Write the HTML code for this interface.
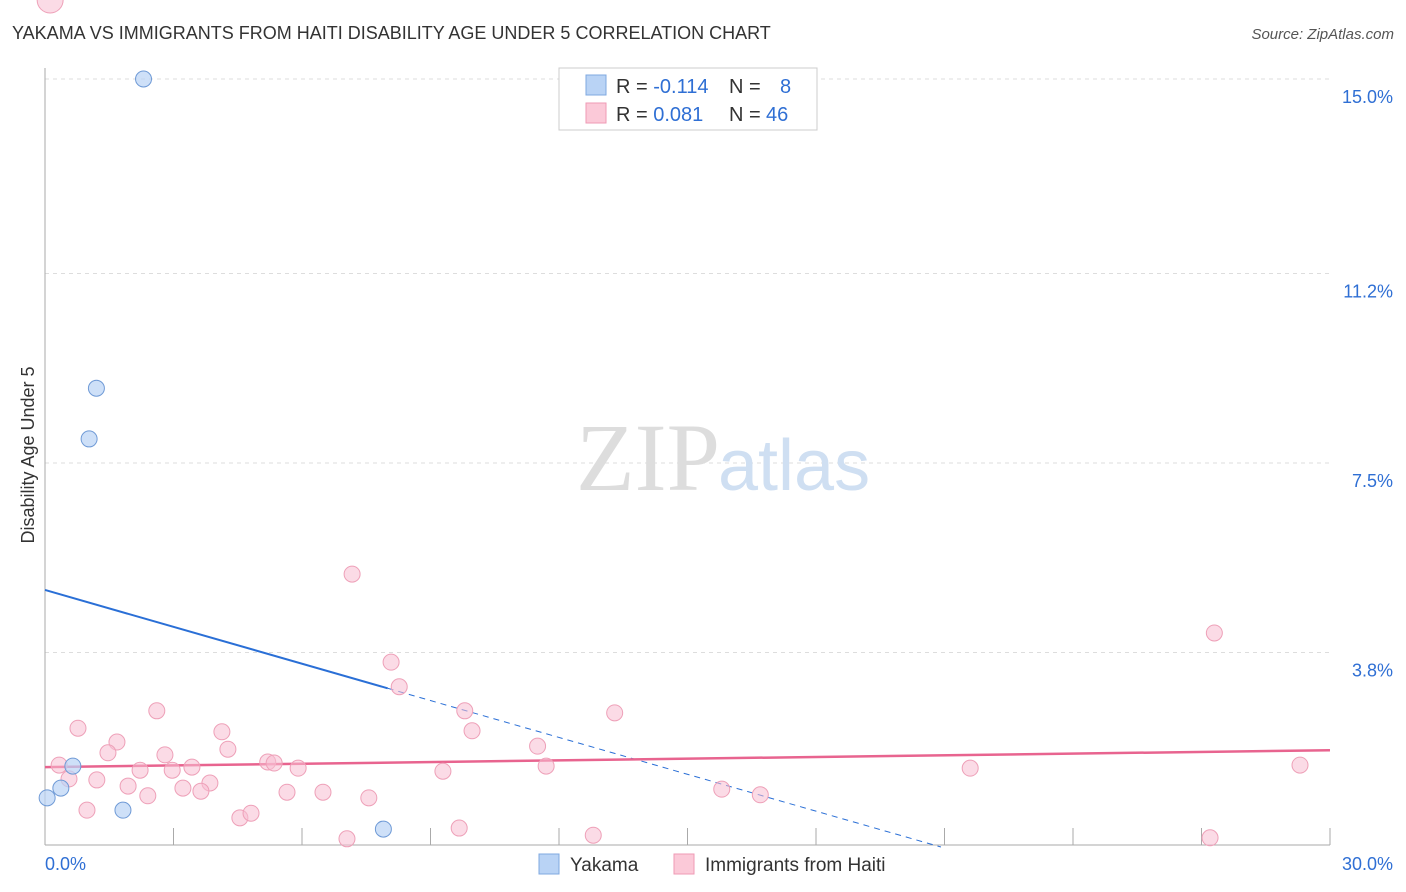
<!DOCTYPE html>
<html><head><meta charset="utf-8"><style>
body{margin:0;background:#fff;font-family:"Liberation Sans",sans-serif;}
#wrap{position:relative;width:1406px;height:892px;overflow:hidden;}
</style></head><body>
<div id="wrap">
<svg id="svg" width="1406" height="892" xmlns="http://www.w3.org/2000/svg">
<text x="12" y="39" font-size="18" fill="#333">YAKAMA VS IMMIGRANTS FROM HAITI DISABILITY AGE UNDER 5 CORRELATION CHART</text>
<text x="1394" y="39" font-size="15" fill="#555" font-style="italic" text-anchor="end">Source: ZipAtlas.com</text>
<text x="34" y="455" font-size="18" fill="#333" text-anchor="middle" transform="rotate(-90 34 455)">Disability Age Under 5</text>
<g id="grid"></g>
<text x="720" y="490" font-size="96" fill="#ddd" font-family="Liberation Serif" text-anchor="end">ZIP</text>
<text x="718" y="490" font-size="72" fill="#cfdff2" text-anchor="start">atlas</text>
<g id="lines"></g>
<g id="pts"></g>
<g>
<rect x="559" y="68" width="258" height="62" fill="#fff" stroke="#ccc"/>
<rect x="586" y="75" width="20" height="20" fill="#b9d3f5" stroke="#7fa8e0"/>
<rect x="586" y="103" width="20" height="20" fill="#fbc9d8" stroke="#ef9ab5"/>
<text x="616" y="93" font-size="20" fill="#333">R = <tspan fill="#2f6fd4">-0.114</tspan><tspan x="729">N = </tspan><tspan x="780" fill="#2f6fd4">8</tspan></text>
<text x="616" y="121" font-size="20" fill="#333">R = <tspan fill="#2f6fd4"> 0.081</tspan><tspan x="729">N = </tspan><tspan x="766" fill="#2f6fd4">46</tspan></text>
</g>
<g>
<rect x="539" y="854" width="20" height="20" fill="#b9d3f5" stroke="#7fa8e0"/>
<text x="570" y="871" font-size="19" fill="#333">Yakama</text>
<rect x="674" y="854" width="20" height="20" fill="#fbc9d8" stroke="#ef9ab5"/>
<text x="705" y="871" font-size="19" fill="#333">Immigrants from Haiti</text>
</g>
</svg>
</div>
<script>
const yTicks=[15.0,11.2,7.5,3.8];
const yTickLabels=["15.0%","11.2%","7.5%","3.8%"];
const xTickLabels=["0.0%","30.0%"];
const yakamaX=[2.3,1.2,1.03,0.65,0.37,0.05,1.82,7.9];
const yakamaY=[15.0,8.96,7.97,1.58,1.15,0.96,0.72,0.35];
const haitiX=[7.17,27.3,8.08,8.27,2.61,9.8,13.3,0.77,4.13,9.97,1.68,11.5,4.27,1.47,2.8,0.33,5.2,5.35,11.7,3.43,5.91,2.22,2.97,9.29,21.6,29.3,0.56,1.21,3.85,1.94,3.22,3.64,5.65,6.49,15.8,2.4,7.56,0.98,4.55,4.81,9.67,27.2,7.05,12.8,16.7,0.12];
const haitiY=[5.33,4.18,3.61,3.13,2.66,2.66,2.62,2.32,2.25,2.27,2.05,1.97,1.91,1.84,1.8,1.6,1.66,1.64,1.58,1.56,1.54,1.5,1.5,1.48,1.54,1.6,1.33,1.31,1.25,1.19,1.15,1.09,1.07,1.07,1.13,1.0,0.96,0.72,0.57,0.66,0.37,0.18,0.16,0.23,1.02];
const yakamaTrend=[5.02,-0.24];
const haitiTrend=[1.56,0.011];
const NS="http://www.w3.org/2000/svg";
const X=v=>45+v*42.833, Y=v=>847-v*51.2;
function mk(t,a,p){const e=document.createElementNS(NS,t);for(const k in a)e.setAttribute(k,a[k]);p.appendChild(e);return e;}
const grid=document.getElementById('grid');
yTicks.forEach((t,i)=>{
 const l=mk('line',{x1:45,x2:1330,y1:Y(t)-(i==0?17:(i==1?-10:(i==2?-9:-8)))*0,y2:Y(t),stroke:'#ddd','stroke-dasharray':'4,4'},grid);
 l.setAttribute('y1',Y(t));
 
 
 const tx=mk('text',{x:1393,y:Y(t)+24,'font-size':18,fill:'#2f6fd4','text-anchor':'end'},grid);
 tx.textContent=yTickLabels[i];
 
 
});
const ax=mk('line',{x1:45,x2:45,y1:68,y2:845,stroke:'#aaa'},grid);


const bx=mk('line',{x1:45,x2:1330,y1:845,y2:845,stroke:'#aaa'},grid);


for(let i=0;i<=10;i++){const t=mk('line',{x1:X(i*3),x2:X(i*3),y1:828,y2:845,stroke:'#aaa'},grid);
 
 }
[[0,'start',45],[30,'end',1393]].forEach((d,i)=>{const t=mk('text',{x:d[2],y:870,'font-size':18,fill:'#2f6fd4','text-anchor':d[1]},grid);t.textContent=xTickLabels[i];
 
 });
const lines=document.getElementById('lines');
const yb=v=>yakamaTrend[0]+yakamaTrend[1]*v;
let l1=mk('line',{x1:X(0),y1:Y(yb(0)),x2:X(8),y2:Y(yb(8)),stroke:'#2a6fd6','stroke-width':2},lines);


const xe=(0-yakamaTrend[0])/yakamaTrend[1];
let l2=mk('line',{x1:X(8),y1:Y(yb(8)),x2:X(xe),y2:Y(0),stroke:'#2a6fd6','stroke-width':1,'stroke-dasharray':'6,5'},lines);


const yh=v=>haitiTrend[0]+haitiTrend[1]*v;
let l3=mk('line',{x1:X(0),y1:Y(yh(0)),x2:X(30),y2:Y(yh(30)),stroke:'#e8648f','stroke-width':2.5},lines);


const pts=document.getElementById('pts');
haitiX.forEach((x,i)=>{const c=mk('circle',{cx:X(x),cy:Y(haitiY[i]),r:(i==haitiX.length-1?13:8),fill:'rgba(248,190,210,0.55)',stroke:'#eea0b8','stroke-width':1},pts);
 
 });
yakamaX.forEach((x,i)=>{const c=mk('circle',{cx:X(x),cy:Y(yakamaY[i]),r:8,fill:'rgba(185,211,245,0.7)',stroke:'#6f9ad6','stroke-width':1},pts);
 
 });
</script>
</body></html>
